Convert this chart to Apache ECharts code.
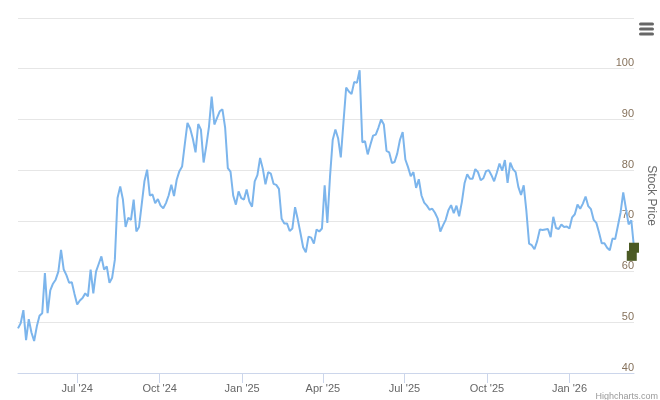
<!DOCTYPE html>
<html>
<head>
<meta charset="utf-8">
<script src="https://cdn.jsdelivr.net/npm/echarts@6/dist/echarts.min.js"></script>
<style>
html,body{margin:0;padding:0;background:#fff;}
#chart{width:660px;height:400px;}
</style>
</head>
<body>
<div id="chart"></div>
<script>
// first sample date (UTC), samples every 3 days
var startDate = [2024, 3, 26];
var stepDays = 3;

// stock price, one value per 3-day step
var prices = [
48.8, 49.8, 52.4, 46.5, 50.6, 48.0, 46.3, 49.2, 51.3, 51.8,
59.7, 51.8, 56.3, 57.6, 58.4, 60.0, 64.3, 60.4, 59.3, 57.8,
57.9, 55.6, 53.5, 54.3, 54.8, 55.7, 55.1, 60.4, 55.7, 60.0,
61.5, 63.0, 60.4, 61.0, 57.8, 58.8, 62.3, 74.5, 76.8, 74.2,
68.8, 70.6, 70.2, 74.2, 67.9, 68.8, 73.3, 77.8, 80.1, 75.0,
75.2, 73.5, 74.3, 73.0, 72.5, 73.5, 75.0, 77.1, 74.9, 78.1,
79.8, 80.7, 85.1, 89.3, 88.2, 86.2, 83.5, 89.1, 88.0, 81.5,
84.8, 88.6, 94.5, 89.0, 90.3, 91.6, 92.0, 88.4, 80.4, 79.7,
75.0, 73.2, 75.8, 74.5, 74.2, 76.2, 73.8, 72.8, 77.8, 79.0,
82.4, 80.3, 77.2, 79.6, 79.3, 77.3, 77.1, 76.3, 70.4, 69.5,
69.5, 68.0, 68.5, 72.7, 70.3, 67.6, 64.8, 63.8, 66.9, 66.7,
65.5, 68.3, 67.9, 68.5, 77.0, 69.6, 78.8, 86.0, 88.0, 86.3,
82.5, 89.5, 96.3, 95.5, 95.0, 97.4, 97.2, 99.7, 85.5, 85.7,
83.1, 85.0, 86.8, 87.0, 88.4, 90.0, 89.0, 83.8, 83.5, 81.4,
81.6, 83.3, 86.0, 87.5, 82.1, 80.6, 78.8, 79.6, 76.5, 78.2,
75.0, 73.6, 73.0, 72.2, 72.4, 71.6, 70.5, 67.9, 69.1, 70.2,
72.1, 73.1, 71.5, 73.0, 70.9, 73.7, 77.4, 79.2, 78.3, 78.3,
80.2, 79.6, 78.0, 78.4, 79.8, 80.0, 79.0, 77.8, 79.5, 81.3,
79.9, 82.0, 77.5, 81.5, 80.2, 79.6, 76.7, 75.1, 77.0, 71.9,
65.5, 65.2, 64.4, 66.0, 68.3, 68.2, 68.3, 68.4, 66.8, 70.8,
68.6, 68.4, 69.3, 68.8, 68.9, 68.5, 70.7, 71.3, 73.2, 72.4,
73.4, 74.8, 72.9, 72.3, 70.2, 69.6, 67.7, 65.6, 65.6, 64.7,
64.2, 66.5, 66.4, 69.0, 71.6, 75.6, 72.4, 69.3, 70.1, 64.7
];

// end markers (dark squares)
var markerDates = [[2026, 2, 14, 0], [2026, 2, 11, 12]];
var markerValues = [64.7, 63.1];

// x-axis ticks
var tickDates = [[2024, 6, 1], [2024, 9, 1], [2025, 0, 1], [2025, 3, 1], [2025, 6, 1], [2025, 9, 1], [2026, 0, 1]];
var tickLabels = ["Jul '24", "Oct '24", "Jan '25", "Apr '25", "Jul '25", "Oct '25", "Jan '26"];

// y-axis
var yMin = 40, yMax = 110, yStep = 10;
var yTitle = 'Stock Price';

var DAY = 86400000;
var t0 = Date.UTC(startDate[0], startDate[1], startDate[2]);
var lineData = prices.map(function (v, i) { return [t0 + i * stepDays * DAY, v]; });
var tStart = lineData[0][0];
var tEnd = lineData[lineData.length - 1][0];
var markerData = markerValues.map(function (v, i) {
  var d = markerDates[i];
  return [Date.UTC(d[0], d[1], d[2], d[3]), v];
});
var tickTs = tickDates.map(function (d) { return Date.UTC(d[0], d[1], d[2]); });

var FONT = '"Liberation Sans", Arial, sans-serif';
var chart = echarts.init(document.getElementById('chart'), null, {renderer: 'canvas'});
chart.setOption({
  animation: false,
  backgroundColor: '#ffffff',
  grid: {left: 18, right: 26, top: 18, bottom: 27, containLabel: false, outerBoundsMode: 'none'},
  xAxis: {
    type: 'value',
    min: tStart,
    max: tEnd,
    axisLine: {show: true, lineStyle: {color: '#ccd6eb', width: 1}},
    axisTick: {show: true, length: 10, lineStyle: {color: '#ccd6eb'}, customValues: tickTs},
    axisLabel: {
      customValues: tickTs,
      color: '#666666',
      fontSize: 11,
      fontFamily: FONT,
      margin: 10,
      formatter: function (val) {
        for (var i = 0; i < tickTs.length; i++) {
          if (Math.abs(tickTs[i] - val) < DAY) return tickLabels[i];
        }
        return '';
      }
    },
    splitLine: {show: false}
  },
  yAxis: {
    type: 'value',
    position: 'right',
    min: yMin,
    max: yMax,
    interval: yStep,
    name: yTitle,
    nameLocation: 'middle',
    nameRotate: -90,
    nameGap: 7,
    nameTextStyle: {color: '#666666', fontSize: 12, fontFamily: FONT},
    axisLine: {show: false},
    axisTick: {show: false},
    axisLabel: {
      inside: true,
      margin: 0,
      verticalAlign: 'bottom',
      color: '#86725c',
      fontSize: 11,
      fontFamily: FONT,
      showMaxLabel: false
    },
    splitLine: {show: true, lineStyle: {color: '#e6e6e6', width: 1}}
  },
  series: [
    {
      type: 'line',
      data: lineData,
      showSymbol: false,
      symbol: 'none',
      lineStyle: {color: '#7cb5ec', width: 2},
      itemStyle: {color: '#7cb5ec'},
      sampling: 'none',
      clip: false,
      z: 2
    },
    {
      type: 'scatter',
      data: markerData,
      symbol: 'rect',
      symbolSize: 10,
      itemStyle: {color: '#4b5a24', opacity: 1},
      clip: false,
      z: 3
    }
  ],
  graphic: [
    {type: 'rect', shape: {x: 639, y: 22.5, width: 15, height: 3, r: 1.5}, style: {fill: '#666666'}},
    {type: 'rect', shape: {x: 639, y: 27.5, width: 15, height: 3, r: 1.5}, style: {fill: '#666666'}},
    {type: 'rect', shape: {x: 639, y: 32.5, width: 15, height: 3, r: 1.5}, style: {fill: '#666666'}},
    {type: 'text', right: 2, top: 392, style: {text: 'Highcharts.com', fill: '#999999', fontSize: 9, fontFamily: FONT}}
  ]
});
</script>
</body>
</html>
